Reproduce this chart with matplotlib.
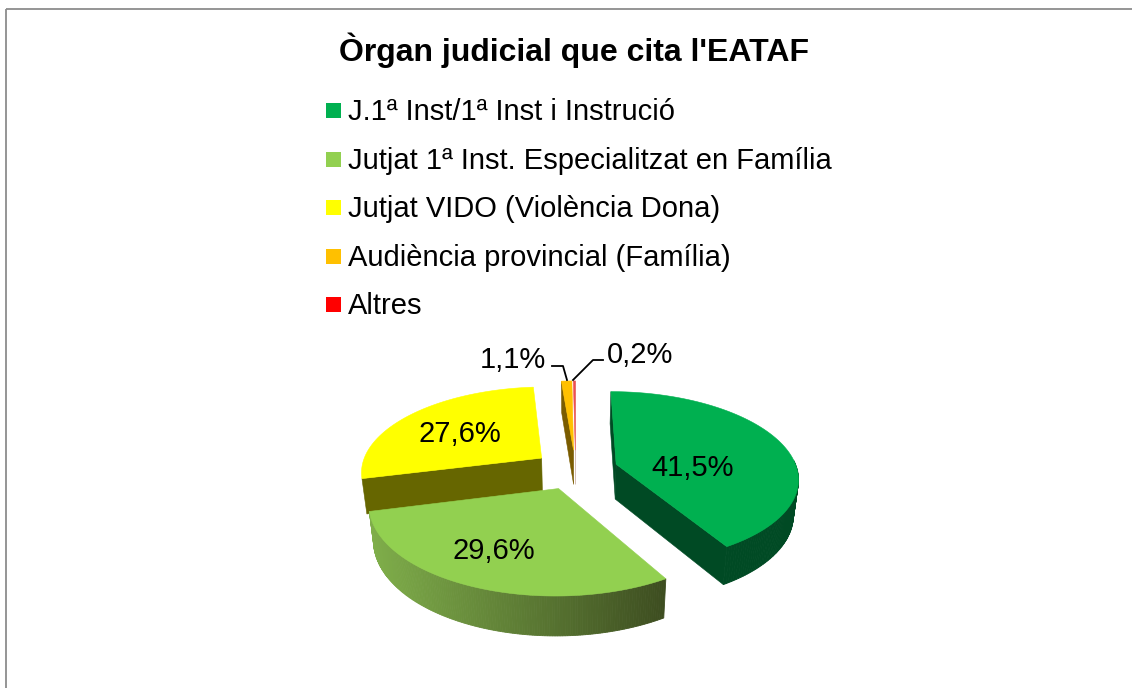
import numpy as np
import matplotlib
matplotlib.use("Agg")
import matplotlib.pyplot as plt
from matplotlib.patches import Polygon, Rectangle
from matplotlib.colors import to_rgb

plt.rcParams['font.family'] = ['Liberation Sans', 'DejaVu Sans']

TITLE = "Òrgan judicial que cita l'EATAF"
categories = ["J.1ª Inst/1ª Inst i Instrució",
              "Jutjat 1ª Inst. Especialitzat en Família",
              "Jutjat VIDO (Violència Dona)",
              "Audiència provincial (Família)",
              "Altres"]
values = [41.5, 29.6, 27.6, 1.1, 0.2]
value_labels = ["41,5%", "29,6%", "27,6%", "1,1%", "0,2%"]
colors = ["#00B050", "#92D050", "#FFFF00", "#FFC000", "#FF0000"]
dark_colors = ["#004A24", "#4F6F2A", "#666600", "#7A5C00", "#B89080"]

# projection of the tilted pie
CX, CY = 575.5, 469.5
RX, RY = 181.0, 85.0
PERSP = 0.15
EXPLODE = 0.235
DEPTH = 35.0
BOTTOM_SCALE = 0.977

W, H = 1132, 688
fig = plt.figure(figsize=(W / 100, H / 100), dpi=100)
ax = fig.add_axes([0, 0, 1, 1])
ax.set_xlim(0, W)
ax.set_ylim(H, 0)
ax.axis("off")


def project(X, Y, z=0.0):
    d = 1 - PERSP * np.asarray(Y)
    s = BOTTOM_SCALE if z else 1.0
    return np.column_stack([CX + s * RX * np.asarray(X) / d,
                            CY + (s * RY * np.asarray(Y) + z) / d])


edges = np.cumsum([0] + values) / sum(values) * 2 * np.pi
slices = []
for i in range(len(values)):
    a0, a1 = edges[i], edges[i + 1]
    mid = (a0 + a1) / 2
    ox, oy = EXPLODE * np.sin(mid), -EXPLODE * np.cos(mid)
    t = np.linspace(a0, a1, 160)
    slices.append(dict(ox=ox, oy=oy, t=t,
                       X=ox + np.sin(t), Y=oy - np.cos(t)))


def cut_face(s, index):
    """Flat wall between the apex and the rim point at an end of the arc."""
    X = [s["ox"], s["X"][index]]
    Y = [s["oy"], s["Y"][index]]
    top = project(X, Y)
    bot = project(X, Y, DEPTH)
    return np.vstack([top, bot[::-1]])


def top_face(s):
    return np.vstack([project([s["ox"]], [s["oy"]]), project(s["X"], s["Y"])])


def rim(ax_, s, c0, c1=None):
    """Outer wall of a slice, visible only where it faces the viewer."""
    X, Y = s["X"], s["Y"]
    top, bot = project(X, Y), project(X, Y, DEPTH)
    idx = np.where(np.cos(s["t"]) < 0.06)[0]
    if len(idx) < 2:
        return
    xs = top[idx, 0]
    lo, hi = xs.min(), xs.max()
    for j, k in zip(idx[:-1], idx[1:]):
        f = ((top[j, 0] + top[k, 0]) / 2 - lo) / (hi - lo)
        col = c0 if c1 is None else tuple(
            (1 - f) * a + f * b for a, b in zip(to_rgb(c0), to_rgb(c1)))
        ax_.add_patch(Polygon([top[j], top[k], bot[k], bot[j]], closed=True,
                              fc=col, ec=col, lw=0.6, zorder=2))


def face(points, color, z, lw=0.4):
    ax.add_patch(Polygon(points, closed=True, fc=color, ec=color, lw=lw, zorder=z))


green, lgreen, yellow, orange, red = slices

# far slices first
face(cut_face(yellow, 0), dark_colors[2], 1)
face(top_face(yellow), colors[2], 1.5)

face(cut_face(orange, 0), dark_colors[3], 1)
face(cut_face(red, -1), dark_colors[4], 1, lw=0.2)
face(top_face(orange), colors[3], 1.5)
face(top_face(red), "#F05050", 1.5)

face(cut_face(green, 0), dark_colors[0], 1)
face(cut_face(green, -1), dark_colors[0], 2)
rim(ax, green, dark_colors[0])
face(top_face(green), colors[0], 3)

# light green rim fades from left (light) to right (dark)
rim(ax, lgreen, "#7FAE4A", "#3D4D20")
face(top_face(lgreen), colors[1], 3)

# frame
ax.add_patch(Rectangle((5.5, 8.5), W - 5, H, fc="none", ec="#8C8C8C", lw=1.3, zorder=0))

# title and legend
ax.text(574, 50, TITLE, ha="center", va="center", fontsize=23, fontweight="bold",
        color="black", zorder=5)
legend_y = [110, 159, 207, 256, 304]
for name, col, y in zip(categories, colors, legend_y):
    ax.add_patch(Rectangle((326, y - 7), 14.5, 14.5, fc=col, ec="none", zorder=5))
    ax.text(347.5, y + 2, name, ha="left", va="center", fontsize=21, color="black", zorder=5)

# value labels
label_pos = [(693, 468), (494, 551), (460, 434), (513, 360), (640, 355)]
for text, (x, y) in zip(value_labels, label_pos):
    ax.text(x, y, text, ha="center", va="center", fontsize=21, color="black", zorder=6)

# leader lines
ax.plot([552, 563, 567], [366, 366, 380], color="black", lw=1.3, zorder=6)
ax.plot([603, 593, 573], [360, 360, 380], color="black", lw=1.3, zorder=6)

fig.savefig("out.png", dpi=100, facecolor="white")
